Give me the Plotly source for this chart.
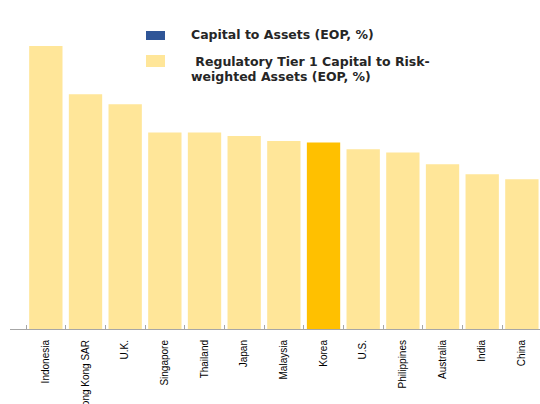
import plotly.graph_objects as go

categories = ["Indonesia", "Hong Kong SAR", "U.K.", "Singapore", "Thailand", "Japan",
              "Malaysia", "Korea", "U.S.", "Philippines", "Australia", "India", "China"]
tier1_values = [17.0, 14.1, 13.5, 11.8, 11.8, 11.6, 11.3, 11.2, 10.8, 10.6, 9.9, 9.3, 9.0]
highlight = "Korea"

series_names = ["Capital to Assets (EOP, %)",
                "Regulatory Tier 1 Capital to Risk-weighted Assets (EOP, %)"]
series_colors = ["#2F5597", "#FFE699"]
highlight_color = "#FFC000"

bar_colors = [highlight_color if c == highlight else series_colors[1] for c in categories]

fig = go.Figure()
fig.add_trace(go.Bar(
    x=categories, y=tier1_values, marker=dict(color=bar_colors, line=dict(width=0)),
    name=series_names[1], showlegend=False,
))

W, H = 540, 404
ml, mr, mt, mb = 10, 0, 20, 75
pw, ph = W - ml - mr, H - mt - mb
ymax = tier1_values[0] * ph / 283.0
step = 39.67
x0 = -0.5 - 16.0 / step
x1 = x0 + pw / step

fig.update_layout(
    width=W, height=H,
    margin=dict(l=ml, r=mr, t=mt, b=mb),
    paper_bgcolor="white", plot_bgcolor="white",
    bargap=0.16,
    showlegend=False,
    xaxis=dict(
        type="category", range=[x0, x1], showgrid=False, zeroline=False,
        showline=True, linecolor="#A6A6A6", linewidth=1,
        ticks="inside", ticklen=4, tickcolor="#A6A6A6", tickson="boundaries",
        tickangle=-90, automargin=False, ticklabelstandoff=6,
        tickfont=dict(family="Liberation Sans", size=10, color="#000"),
    ),
    yaxis=dict(range=[0, ymax], visible=False, fixedrange=True),
)

# legend drawn manually (page pixels -> paper fractions)
def fx(x): return (x - ml) / pw
def fy(y): return 1 - (y - mt) / ph

legend_boxes = [(146, 31, 165, 40), (146, 55, 165, 67)]
for (xa, ya, xb, yb), col in zip(legend_boxes, series_colors):
    fig.add_shape(type="rect", xref="paper", yref="paper",
                  x0=fx(xa), x1=fx(xb), y0=fy(yb), y1=fy(ya),
                  fillcolor=col, line=dict(width=0))

legend_lines = [
    (190, 35, series_names[0]),
    (190, 62, "\u00a0" + series_names[1].split("Risk-")[0] + "Risk-"),
    (190, 76, series_names[1].split("Risk-")[1]),
]
for tx, ty, txt in legend_lines:
    fig.add_annotation(xref="paper", yref="paper", x=fx(tx), y=fy(ty),
                       xanchor="left", yanchor="middle", align="left",
                       text=txt, showarrow=False, borderpad=0,
                       font=dict(family="DejaVu Sans", size=12.5, weight="bold", color="#262626"))

fig.write_html("out.html", config={"displayModeBar": False},
               post_script="document.body.style.margin='0';")
